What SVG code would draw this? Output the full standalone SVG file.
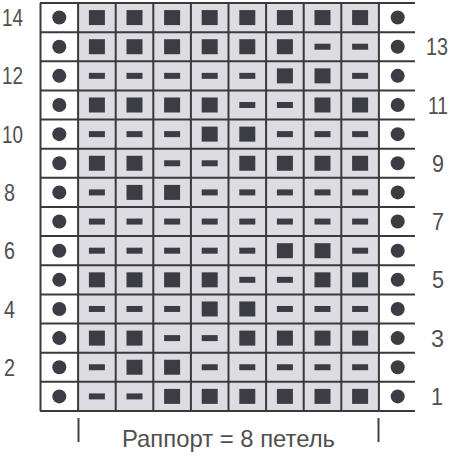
<svg xmlns="http://www.w3.org/2000/svg" xmlns:xlink="http://www.w3.org/1999/xlink" width="453" height="461" viewBox="0 0 453 461">
<style>
.lbl{font-family:"Liberation Sans",Arial,sans-serif;font-size:24px;fill:#4f4f4f}
.grid{stroke:#3a3a3a;stroke-width:2;fill:none}
.sym{fill:#3c3c44}
</style>
<defs>
<rect id="sq" class="sym" x="-8" y="-7.5" width="16" height="15"/>
<rect id="ds" class="sym" x="-8" y="-3" width="16" height="6"/>
<circle id="dt" class="sym" r="7"/>
</defs>
<rect x="0" y="0" width="453" height="461" fill="#ffffff"/>
<rect x="78.1" y="3" width="300.8" height="408" fill="#dcdce2"/>
<g id="connectors" class="grid">
<path d="M40.5 3V411M78.1 3V411M115.7 3V411M153.3 3V411M190.9 3V411M228.5 3V411M266.1 3V411M303.7 3V411M341.3 3V411M378.9 3V411"/>
<path d="M40 3H415M40 32.14H415M40 61.28H415M40 90.42H415M40 119.56H415M40 148.7H415M40 177.84H415M40 206.98H415M40 236.12H415M40 265.26H415M40 294.4H415M40 323.54H415M40 352.68H415M40 381.82H415M40 410.96H415"/>
</g>
<g id="row14"><use href="#dt" x="59.3" y="17.57"/><use href="#sq" x="96.9" y="17.57"/><use href="#sq" x="134.5" y="17.57"/><use href="#sq" x="172.1" y="17.57"/><use href="#sq" x="209.7" y="17.57"/><use href="#sq" x="247.3" y="17.57"/><use href="#sq" x="284.9" y="17.57"/><use href="#sq" x="322.5" y="17.57"/><use href="#sq" x="360.1" y="17.57"/><use href="#dt" x="397.7" y="17.57"/></g>
<g id="row13"><use href="#dt" x="59.3" y="46.71"/><use href="#sq" x="96.9" y="46.71"/><use href="#sq" x="134.5" y="46.71"/><use href="#sq" x="172.1" y="46.71"/><use href="#sq" x="209.7" y="46.71"/><use href="#sq" x="247.3" y="46.71"/><use href="#sq" x="284.9" y="46.71"/><use href="#ds" x="322.5" y="46.71"/><use href="#ds" x="360.1" y="46.71"/><use href="#dt" x="397.7" y="46.71"/></g>
<g id="row12"><use href="#dt" x="59.3" y="75.85"/><use href="#ds" x="96.9" y="75.85"/><use href="#ds" x="134.5" y="75.85"/><use href="#ds" x="172.1" y="75.85"/><use href="#ds" x="209.7" y="75.85"/><use href="#ds" x="247.3" y="75.85"/><use href="#sq" x="284.9" y="75.85"/><use href="#sq" x="322.5" y="75.85"/><use href="#ds" x="360.1" y="75.85"/><use href="#dt" x="397.7" y="75.85"/></g>
<g id="row11"><use href="#dt" x="59.3" y="104.99"/><use href="#sq" x="96.9" y="104.99"/><use href="#sq" x="134.5" y="104.99"/><use href="#sq" x="172.1" y="104.99"/><use href="#sq" x="209.7" y="104.99"/><use href="#ds" x="247.3" y="104.99"/><use href="#ds" x="284.9" y="104.99"/><use href="#sq" x="322.5" y="104.99"/><use href="#sq" x="360.1" y="104.99"/><use href="#dt" x="397.7" y="104.99"/></g>
<g id="row10"><use href="#dt" x="59.3" y="134.13"/><use href="#ds" x="96.9" y="134.13"/><use href="#ds" x="134.5" y="134.13"/><use href="#ds" x="172.1" y="134.13"/><use href="#sq" x="209.7" y="134.13"/><use href="#sq" x="247.3" y="134.13"/><use href="#ds" x="284.9" y="134.13"/><use href="#ds" x="322.5" y="134.13"/><use href="#ds" x="360.1" y="134.13"/><use href="#dt" x="397.7" y="134.13"/></g>
<g id="row9"><use href="#dt" x="59.3" y="163.27"/><use href="#sq" x="96.9" y="163.27"/><use href="#sq" x="134.5" y="163.27"/><use href="#ds" x="172.1" y="163.27"/><use href="#ds" x="209.7" y="163.27"/><use href="#sq" x="247.3" y="163.27"/><use href="#sq" x="284.9" y="163.27"/><use href="#sq" x="322.5" y="163.27"/><use href="#sq" x="360.1" y="163.27"/><use href="#dt" x="397.7" y="163.27"/></g>
<g id="row8"><use href="#dt" x="59.3" y="192.41"/><use href="#ds" x="96.9" y="192.41"/><use href="#sq" x="134.5" y="192.41"/><use href="#sq" x="172.1" y="192.41"/><use href="#ds" x="209.7" y="192.41"/><use href="#ds" x="247.3" y="192.41"/><use href="#ds" x="284.9" y="192.41"/><use href="#ds" x="322.5" y="192.41"/><use href="#ds" x="360.1" y="192.41"/><use href="#dt" x="397.7" y="192.41"/></g>
<g id="row7"><use href="#dt" x="59.3" y="221.55"/><use href="#ds" x="96.9" y="221.55"/><use href="#ds" x="134.5" y="221.55"/><use href="#ds" x="172.1" y="221.55"/><use href="#ds" x="209.7" y="221.55"/><use href="#ds" x="247.3" y="221.55"/><use href="#ds" x="284.9" y="221.55"/><use href="#ds" x="322.5" y="221.55"/><use href="#ds" x="360.1" y="221.55"/><use href="#dt" x="397.7" y="221.55"/></g>
<g id="row6"><use href="#dt" x="59.3" y="250.69"/><use href="#ds" x="96.9" y="250.69"/><use href="#ds" x="134.5" y="250.69"/><use href="#ds" x="172.1" y="250.69"/><use href="#ds" x="209.7" y="250.69"/><use href="#ds" x="247.3" y="250.69"/><use href="#sq" x="284.9" y="250.69"/><use href="#sq" x="322.5" y="250.69"/><use href="#ds" x="360.1" y="250.69"/><use href="#dt" x="397.7" y="250.69"/></g>
<g id="row5"><use href="#dt" x="59.3" y="279.83"/><use href="#sq" x="96.9" y="279.83"/><use href="#sq" x="134.5" y="279.83"/><use href="#sq" x="172.1" y="279.83"/><use href="#sq" x="209.7" y="279.83"/><use href="#ds" x="247.3" y="279.83"/><use href="#ds" x="284.9" y="279.83"/><use href="#sq" x="322.5" y="279.83"/><use href="#sq" x="360.1" y="279.83"/><use href="#dt" x="397.7" y="279.83"/></g>
<g id="row4"><use href="#dt" x="59.3" y="308.97"/><use href="#ds" x="96.9" y="308.97"/><use href="#ds" x="134.5" y="308.97"/><use href="#ds" x="172.1" y="308.97"/><use href="#sq" x="209.7" y="308.97"/><use href="#sq" x="247.3" y="308.97"/><use href="#ds" x="284.9" y="308.97"/><use href="#ds" x="322.5" y="308.97"/><use href="#ds" x="360.1" y="308.97"/><use href="#dt" x="397.7" y="308.97"/></g>
<g id="row3"><use href="#dt" x="59.3" y="338.11"/><use href="#sq" x="96.9" y="338.11"/><use href="#sq" x="134.5" y="338.11"/><use href="#ds" x="172.1" y="338.11"/><use href="#ds" x="209.7" y="338.11"/><use href="#sq" x="247.3" y="338.11"/><use href="#sq" x="284.9" y="338.11"/><use href="#sq" x="322.5" y="338.11"/><use href="#sq" x="360.1" y="338.11"/><use href="#dt" x="397.7" y="338.11"/></g>
<g id="row2"><use href="#dt" x="59.3" y="367.25"/><use href="#ds" x="96.9" y="367.25"/><use href="#sq" x="134.5" y="367.25"/><use href="#sq" x="172.1" y="367.25"/><use href="#ds" x="209.7" y="367.25"/><use href="#ds" x="247.3" y="367.25"/><use href="#ds" x="284.9" y="367.25"/><use href="#ds" x="322.5" y="367.25"/><use href="#ds" x="360.1" y="367.25"/><use href="#dt" x="397.7" y="367.25"/></g>
<g id="row1"><use href="#dt" x="59.3" y="396.39"/><use href="#ds" x="96.9" y="396.39"/><use href="#ds" x="134.5" y="396.39"/><use href="#sq" x="172.1" y="396.39"/><use href="#sq" x="209.7" y="396.39"/><use href="#sq" x="247.3" y="396.39"/><use href="#sq" x="284.9" y="396.39"/><use href="#sq" x="322.5" y="396.39"/><use href="#sq" x="360.1" y="396.39"/><use href="#dt" x="397.7" y="396.39"/></g>
<g id="labels-left" class="lbl">
<text x="2" y="26" textLength="21" lengthAdjust="spacingAndGlyphs">14</text>
<text x="2" y="84.3" textLength="21" lengthAdjust="spacingAndGlyphs">12</text>
<text x="2" y="142.6" textLength="21" lengthAdjust="spacingAndGlyphs">10</text>
<text x="4" y="200.9" textLength="11" lengthAdjust="spacingAndGlyphs">8</text>
<text x="4" y="259.2" textLength="11" lengthAdjust="spacingAndGlyphs">6</text>
<text x="4" y="317.5" textLength="11" lengthAdjust="spacingAndGlyphs">4</text>
<text x="4" y="375.8" textLength="11" lengthAdjust="spacingAndGlyphs">2</text>
</g>
<g id="labels-right" class="lbl">
<text x="426" y="55.2" textLength="22" lengthAdjust="spacingAndGlyphs">13</text>
<text x="428" y="113.5" textLength="20" lengthAdjust="spacingAndGlyphs">11</text>
<text x="432" y="171.8" textLength="12" lengthAdjust="spacingAndGlyphs">9</text>
<text x="432" y="230.1" textLength="12" lengthAdjust="spacingAndGlyphs">7</text>
<text x="432" y="288.4" textLength="12" lengthAdjust="spacingAndGlyphs">5</text>
<text x="431" y="346.7" textLength="13" lengthAdjust="spacingAndGlyphs">3</text>
<text x="431" y="405" textLength="12" lengthAdjust="spacingAndGlyphs">1</text>
</g>
<g id="rapport">
<path d="M78.5 418V442M378.5 418V442" stroke="#444" stroke-width="2"/>
<text class="lbl" x="122" y="447" textLength="213" lengthAdjust="spacingAndGlyphs">Раппорт = 8 петель</text>
</g>
</svg>
